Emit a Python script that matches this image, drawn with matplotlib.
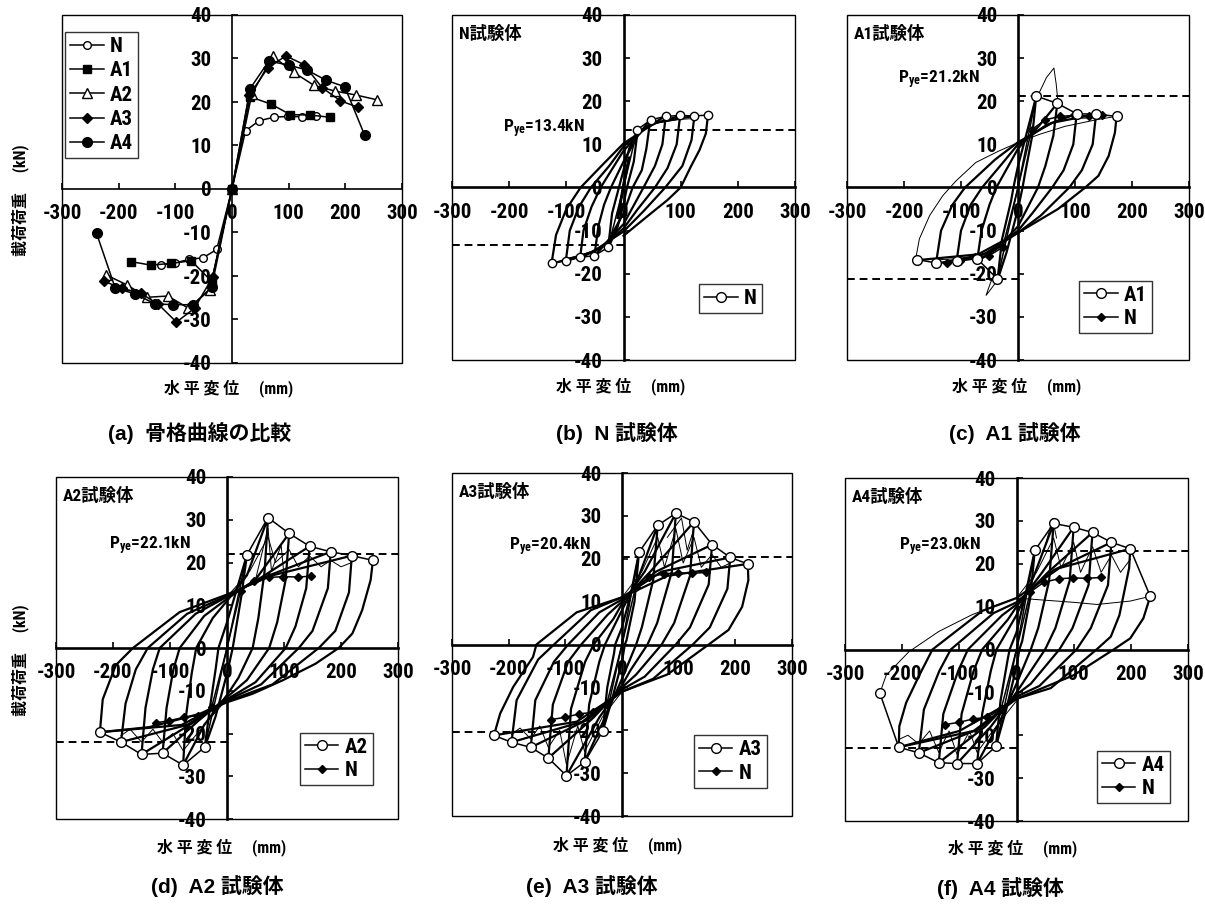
import matplotlib
matplotlib.use('Agg')
import matplotlib.pyplot as plt
from matplotlib import font_manager
from matplotlib.patches import Rectangle
from matplotlib.lines import Line2D

# fonts: look for a narrow bold face for the numbers
names = {f.name for f in font_manager.fontManager.ttflist}
NUM_FONT, NUM_STRETCH = 'Liberation Sans', 'normal'
for cand in ['Liberation Sans Narrow', 'Arial Narrow', 'Roboto Condensed', 'Open Sans Condensed',
             'Noto Sans Condensed', 'DejaVu Sans Condensed']:
    if cand in names:
        NUM_FONT = cand
        break
else:
    for f in font_manager.fontManager.ttflist:
        if f.name in ('Noto Sans', 'Open Sans', 'DejaVu Sans', 'Roboto') and \
                str(f.stretch) in ('condensed', 'semi-condensed', 'extra-condensed'):
            NUM_FONT, NUM_STRETCH = f.name, f.stretch
            break
JP_FONT = 'Noto Sans CJK JP'
plt.rcParams['font.family'] = [NUM_FONT, JP_FONT]
plt.rcParams['font.stretch'] = NUM_STRETCH
plt.rcParams['font.weight'] = 'bold'
plt.rcParams['axes.unicode_minus'] = False
plt.rcParams['mathtext.fontset'] = 'custom'
plt.rcParams['mathtext.rm'] = NUM_FONT + ':bold'
plt.rcParams['mathtext.it'] = NUM_FONT + ':bold'
plt.rcParams['mathtext.bf'] = NUM_FONT + ':bold'
NARROW = NUM_STRETCH != 'normal' or NUM_FONT != 'Liberation Sans'
TICK_FS = 15 if NARROW else 12

W, H = 1205, 905

# ---- skeleton curves (horizontal displacement mm, load kN) ----
N_skel_x = [-125, -101, -76, -51, -27, 0, 24, 48, 74, 99, 124, 148]
N_skel_y = [-17.5, -17.0, -16.2, -15.8, -13.9, 0, 13.4, 15.7, 16.5, 16.7, 16.6, 16.8]

A1_skel_x = [-178, -143, -107, -72, -36, 0, 32, 69, 103, 137, 173]
A1_skel_y = [-16.7, -17.5, -17.1, -16.5, -21.2, 0, 21.2, 19.5, 17.1, 17.0, 16.5]

A2_skel_x = [-223, -186, -150, -113, -77, -39, 0, 35, 72, 109, 145, 182, 219, 256]
A2_skel_y = [-19.7, -22.0, -24.9, -24.6, -27.4, -23.2, 0, 21.8, 30.5, 26.8, 23.8, 22.5, 21.6, 20.5]

A3_skel_x = [-226, -195, -161, -130, -98, -66, -34, 0, 30, 63, 95, 127, 159, 191, 222]
A3_skel_y = [-21.2, -22.8, -24.0, -26.5, -30.6, -27.4, -20.2, 0, 21.5, 27.8, 30.6, 28.6, 23.3, 20.3, 18.8]

A4_skel_x = [-239, -206, -171, -136, -104, -69, -36, 0, 32, 65, 100, 133, 166, 199, 234]
A4_skel_y = [-10.2, -22.8, -24.1, -26.4, -26.6, -26.6, -22.6, 0, 23.1, 29.4, 28.5, 27.3, 25.0, 23.5, 12.4]

# yield loads
P_ye = {'N': 13.4, 'A1': 21.2, 'A2': 22.1, 'A3': 20.4, 'A4': 23.0}

# ---- hysteresis loops ----
N_loops = [
    [(-10, -7), (0, 0), (10, 7), (0, 1), (-10, -7)],
    [(25, 13.5), (18, 6), (6, 0), (0, -4), (-10, -9), (-27, -14.1), (-20, -6), (-8, 0), (0, 4), (10, 9), (25, 13.5)],
    [(47, 15.8), (40, 9), (32, 4), (16, 0), (0, -6), (-25, -12), (-51, -16), (-44, -9), (-34, -4), (-22, 0), (0, 6), (25, 12), (47, 15.8)],
    [(74, 16.6), (68, 10), (55, 5), (35, 0), (0, -8.5), (-35, -13.5), (-76, -16.4), (-70, -10), (-56, -4.5), (-40, 0), (0, 8.5), (35, 13.5), (74, 16.6)],
    [(99, 16.6), (93, 10), (77, 4.5), (55, 0), (25, -5), (0, -9.5), (-45, -14.5), (-101, -17.1), (-94, -10), (-78, -4.5), (-57, 0), (-25, 5), (0, 9.5), (45, 14.5), (99, 16.6)],
    [(124, 16.6), (119, 11), (103, 5), (73, 0), (35, -5.5), (0, -10.2), (-55, -15), (-126, -17.7), (-118, -11), (-100, -5), (-75, 0), (-35, 5.5), (0, 10.2), (55, 15), (124, 16.6)],
    [(148, 17), (144, 12.5), (133, 8.7), (118, 4.9), (100, 0), (77, -2.9), (48, -6), (0, -11.2)],
]
N_thin = [
    [(0, 10), (30, 13), (60, 15), (99, 15.8), (124, 16)],
    [(0, -10), (-40, -14), (-76, -15.8), (-101, -16.5)],
]

A1_loops = [
    [(32, 21.2), (25, 12), (12, 3), (8, 0), (0, -5), (-20, -15), (-36, -21.5), (-28, -12), (-12, -3), (-8, 0), (0, 5), (20, 15), (32, 21.2)],
    [(69, 19.5), (62, 12), (48, 5), (35, 0), (0, -9), (-35, -14), (-72, -17.2), (-64, -10), (-50, -4), (-38, 0), (0, 9), (35, 14), (69, 19.5)],
    [(103, 17.1), (97, 10), (80, 4), (60, 0), (25, -6), (0, -10), (-50, -15), (-108, -17.3), (-100, -10), (-83, -4), (-63, 0), (-25, 6), (0, 10), (50, 14.5), (103, 17.1)],
    [(137, 17), (131, 10), (112, 4), (90, 0), (40, -6.5), (0, -10.5), (-60, -15.5), (-144, -17.7), (-135, -10), (-115, -4), (-93, 0), (-40, 6.5), (0, 10.5), (60, 15), (137, 17)],
    [(173, 16.5), (170, 12.7), (159, 7.3), (141, 2.7), (118, 0), (70, -5), (0, -10.5), (-70, -15.5), (-180, -16.9)],
]
A1_thin = [
    [(-180, -16.9), (-173, -11.9), (-155, -6.5), (-132, -1.9), (-109, 1.5), (-74, 5.8), (-33, 8.5), (0, 10.4), (37, 12.3), (83, 14.2), (141, 15.8), (173, 16.5)],
    [(30, 20), (50, 25.5), (63, 27.7), (67, 24), (70, 20)],
    [(-36, -21.5), (-50, -24), (-56, -25), (-48, -22), (-40, -20)],
    [(0, 10), (40, 13.5), (69, 15.5), (103, 16), (137, 16.2)],
    [(0, -10), (-40, -14.5), (-72, -16), (-108, -16.5), (-144, -16.8)],
]

A2_loops = [
    [(35, 21.8), (25, 12), (15, 4), (10, 0), (0, -6), (-20, -16), (-39, -23.2), (-30, -14), (-20, -5), (-15, 0), (0, 6), (20, 15), (35, 21.8)],
    [(72, 30.5), (66, 18), (55, 7), (45, 0), (20, -7), (0, -11), (-40, -18), (-77, -27.4), (-72, -16), (-62, -6), (-54, 0), (-25, 7), (0, 11), (35, 17), (72, 30.5)],
    [(109, 26.8), (103, 16), (88, 6), (74, 0), (35, -7.5), (0, -11.5), (-50, -17), (-113, -24.6), (-106, -14), (-94, -5), (-83, 0), (-40, 7.5), (0, 11.5), (50, 16), (109, 26.8)],
    [(145, 23.8), (139, 14), (120, 5), (103, 0), (50, -8), (0, -12), (-60, -17.5), (-150, -24.9), (-143, -14), (-130, -5), (-118, 0), (-55, 8), (0, 12), (60, 16.5), (145, 23.8)],
    [(182, 22.5), (177, 14), (150, 4), (126, 0), (60, -8.5), (0, -12.2), (-70, -18), (-186, -22), (-178, -13), (-160, -5), (-139, 0), (-70, 8), (0, 12.2), (70, 16.8), (182, 22.5)],
    [(219, 21.6), (214, 13), (190, 4), (161, 0), (80, -8.5), (0, -12.5), (-80, -18), (-223, -19.7), (-218, -12), (-195, -4), (-165, 0), (-83, 8.4), (0, 12.5), (80, 17), (219, 21.6)],
    [(256, 20.5), (252, 15.9), (237, 8.8), (220, 3.4), (196, 0), (155, -3.7), (97, -7.6), (45, -10.7), (0, -12.7), (-48, -15.4), (-136, -18.5), (-223, -19.7)],
]
A2_thin = [
    [(0, 12), (40, 18), (72, 26), (85, 20), (109, 23), (125, 19), (145, 21.5), (165, 19), (182, 20.5), (200, 19), (219, 20)],
    [(0, -12), (-40, -18), (-77, -24), (-95, -20), (-113, -22), (-130, -19), (-150, -22), (-170, -19), (-186, -20.5)],
    [(50, 16), (72, 28), (78, 18), (95, 24), (100, 17)],
]

A3_loops = [
    [(30, 21.5), (22, 10), (8, 1), (5, 0), (0, -4), (-18, -13), (-34, -20.2), (-26, -10), (-14, -2), (-12, 0), (0, 4), (16, 12), (30, 21.5)],
    [(63, 27.8), (55, 15), (35, 4), (25, 0), (0, -8), (-30, -17), (-66, -27.4), (-58, -14), (-40, -4), (-30, 0), (0, 8), (30, 16), (63, 27.8)],
    [(95, 30.6), (88, 17), (62, 5), (45, 0), (15, -6), (0, -9.5), (-40, -17), (-98, -30.6), (-90, -15), (-65, -4), (-50, 0), (-15, 6), (0, 9.5), (40, 17), (95, 30.6)],
    [(127, 28.6), (120, 16), (92, 5), (70, 0), (25, -7), (0, -10), (-50, -17), (-130, -26.5), (-122, -14), (-95, -4), (-72, 0), (-25, 7), (0, 10), (50, 17), (127, 28.6)],
    [(159, 23.3), (153, 14), (120, 4), (95, 0), (40, -7.5), (0, -10.5), (-60, -17.5), (-161, -24.0), (-153, -13), (-120, -4), (-95, 0), (-40, 7.5), (0, 10.5), (60, 17), (159, 23.3)],
    [(191, 20.3), (186, 13), (155, 4), (125, 0), (55, -8), (0, -11), (-70, -18), (-195, -22.8), (-186, -13), (-148, -3.5), (-120, 0), (-55, 8), (0, 11), (70, 17), (191, 20.3)],
    [(222, 18.8), (223, 15), (212, 8.8), (188, 3.4), (153, 0), (80, -7), (0, -11), (-80, -18), (-226, -21.2), (-215, -16.1), (-192, -9.9), (-157, -2.9), (-151, 0), (-80, 7.5), (0, 11), (80, 16), (222, 18.8)],
]
A3_thin = [
    [(0, 11), (35, 17), (63, 25), (75, 18), (95, 27), (108, 19), (127, 25), (140, 18), (159, 21), (175, 18), (191, 19)],
    [(0, -11), (-35, -17), (-66, -25), (-78, -19), (-98, -28), (-110, -20), (-130, -24), (-145, -19), (-161, -22), (-180, -19.5), (-195, -21)],
    [(80, 25), (105, 29.5), (115, 22), (127, 27)],
]

A4_loops = [
    [(32, 23.1), (24, 12), (10, 2), (5, 0), (0, -4), (-18, -14), (-36, -22.6), (-28, -12), (-15, -2), (-12, 0), (0, 4), (16, 13), (32, 23.1)],
    [(65, 29.4), (57, 16), (38, 5), (25, 0), (0, -8), (-30, -17), (-69, -26.6), (-60, -15), (-45, -5), (-35, 0), (0, 8), (30, 17), (65, 29.4)],
    [(100, 28.5), (93, 16), (68, 5), (50, 0), (15, -7), (0, -10), (-45, -18), (-104, -26.6), (-96, -15), (-75, -5), (-60, 0), (-15, 7), (0, 10), (45, 18), (100, 28.5)],
    [(133, 27.3), (126, 15), (98, 5), (75, 0), (25, -8), (0, -10.5), (-55, -18), (-136, -26.4), (-128, -15), (-102, -5), (-85, 0), (-25, 8), (0, 10.5), (55, 18), (133, 27.3)],
    [(166, 25), (160, 15), (130, 5), (105, 0), (40, -8.5), (0, -11), (-65, -18.5), (-171, -24.1), (-162, -14), (-135, -5), (-115, 0), (-40, 8.5), (0, 11), (65, 18.5), (166, 25)],
    [(199, 23.5), (197, 19), (180, 8), (165, 3), (140, 0), (60, -9), (0, -11.5), (-75, -19), (-206, -22.8), (-205, -17.9), (-193, -12.4), (-170, -6), (-147, 0), (-60, 9), (0, 12), (75, 19), (199, 23.5)],
    [(234, 12.4), (222, 7.3), (199, 2.6), (170, 0), (100, -6), (0, -11.5), (-100, -19), (-206, -22.8)],
]
A4_thin = [
    [(-239, -10.2), (-228, -6), (-188, -0.5), (-136, 4.2), (-78, 8.1), (-32, 10.5), (0, 12), (100, 11), (141, 10.5), (199, 11.3), (234, 12.4)],
    [(50, 24), (63, 30.5), (70, 26)],
    [(0, 12), (35, 18), (65, 26), (78, 19), (100, 25), (112, 18), (133, 24), (148, 18), (166, 22), (182, 18), (199, 21)],
    [(0, -12), (-36, -18), (-69, -24), (-82, -19), (-104, -24.5), (-118, -19), (-136, -24), (-152, -19), (-171, -22), (-190, -20), (-206, -21)],
]


def plot_path(ax, pts, lw=1.4, color='black'):
    ax.plot([p[0] for p in pts], [p[1] for p in pts], color=color, lw=lw,
            solid_joinstyle='round', zorder=2)


def no_origin(xs):
    # marker indices, leaving out the origin point
    return [i for i, v in enumerate(xs) if v != 0]


def setup(ax, zero_lw):
    ax.set_xlim(-300, 300)
    ax.set_ylim(-40, 40)
    ax.spines['left'].set_position('zero')
    ax.spines['bottom'].set_position('zero')
    ax.spines['left'].set_linewidth(zero_lw)
    ax.spines['bottom'].set_linewidth(zero_lw)
    ax.spines['right'].set_visible(False)
    ax.spines['top'].set_visible(False)
    ax.add_patch(Rectangle((0, 0), 1, 1, transform=ax.transAxes, fill=False,
                           lw=1.0, ec='black', clip_on=False, zorder=5))
    ax.set_xticks(range(-300, 301, 100))
    ax.set_yticks(range(-40, 41, 10))
    ax.tick_params(direction='in', length=4, width=1.2, labelsize=TICK_FS)
    ax.tick_params(axis='y', pad=15)
    ax.tick_params(axis='x', pad=11)
    for lab in ax.get_xticklabels() + ax.get_yticklabels():
        lab.set_fontweight('bold')
    ax.patch.set_alpha(0)


def axes_px(left, top, right, bottom):
    return fig.add_axes([left / W, 1 - bottom / H, (right - left) / W, (bottom - top) / H])


fig = plt.figure(figsize=(W / 100, H / 100), dpi=100)

# ---------------- (a) skeleton comparison ----------------
ax = axes_px(62, 15, 402, 363)
setup(ax, 1.2)
ax.plot(N_skel_x, N_skel_y, '-o', color='black', lw=1.1, ms=5.5, mfc='white', mec='black', mew=1.0, zorder=3)
ax.plot(A1_skel_x, A1_skel_y, '-s', color='black', lw=1.1, ms=6, zorder=3)
ax.plot(A2_skel_x, A2_skel_y, '-^', color='black', lw=1.1, ms=7, mfc='white', mec='black', mew=1.0, zorder=3)
ax.plot(A3_skel_x, A3_skel_y, '-D', color='black', lw=1.1, ms=5.5, zorder=3)
ax.plot(A4_skel_x, A4_skel_y, '-o', color='black', lw=1.1, ms=7, zorder=3)
handles = [
    Line2D([], [], color='black', lw=1.1, marker='o', ms=5.5, mfc='white', mec='black'),
    Line2D([], [], color='black', lw=1.1, marker='s', ms=6),
    Line2D([], [], color='black', lw=1.1, marker='^', ms=7, mfc='white', mec='black'),
    Line2D([], [], color='black', lw=1.1, marker='D', ms=5.5),
    Line2D([], [], color='black', lw=1.1, marker='o', ms=7),
]
leg = ax.legend(handles, ['N', 'A1', 'A2', 'A3', 'A4'], loc='upper left',
                bbox_to_anchor=(0.009, 0.951), borderaxespad=0, frameon=True, fancybox=False,
                edgecolor='black', fontsize=TICK_FS, handlelength=1.6,
                borderpad=0.25, labelspacing=0.25, handletextpad=0.3)
leg.get_frame().set_linewidth(1.0)

# ---------------- hysteresis panels ----------------
panels = [
    # name, box(left, top, right, bottom), loops, thin, skeleton, legend anchor, Pye label pos
    ('N', (452, 15, 795, 360), N_loops, N_thin, (N_skel_x, N_skel_y), (0.904, 0.136), (-140, 13.7)),
    ('A1', (847, 15, 1189, 360), A1_loops, A1_thin, (A1_skel_x, A1_skel_y), (0.892, 0.078), (-139, 25)),
    ('A2', (56, 477, 398, 819), A2_loops, A2_thin, (A2_skel_x, A2_skel_y), (0.927, 0.099), (-136, 24)),
    ('A3', (452, 473, 792, 816), A3_loops, A3_thin, (A3_skel_x, A3_skel_y), (0.926, 0.082), (-127, 22.9)),
    ('A4', (845, 478, 1188, 821), A4_loops, A4_thin, (A4_skel_x, A4_skel_y), (0.947, 0.052), (-134, 24)),
]

for name, box, loops, thin, skel, anchor, ppos in panels:
    ax = axes_px(*box)
    setup(ax, 1.9)
    for loop in loops:
        plot_path(ax, loop, lw=1.6)
    for t in thin:
        plot_path(ax, t, lw=0.7)
    py = P_ye[name]
    ax.plot([0, 300], [py, py], color='black', lw=1.4, ls=(0, (4, 2.5)), zorder=2)
    ax.plot([-300, 0], [-py, -py], color='black', lw=1.4, ls=(0, (4, 2.5)), zorder=2)
    ax.text(ppos[0], ppos[1], r'P$_{ye}$=%.1fkN' % py, ha='center', va='center',
            fontsize=12.5, fontweight='bold')
    ax.text(-288, 35.8, name + '試験体', ha='left', va='center', fontsize=12.5,
            fontweight='bold')
    h_spec = Line2D([], [], color='black', lw=1.1, marker='o', ms=7, mfc='white', mec='black')
    h_n = Line2D([], [], color='black', lw=1.1, marker='D', ms=4.5)
    if name == 'N':
        ax.plot(skel[0], skel[1], '-o', color='black', lw=1.1, ms=6, mfc='white', mec='black',
                markevery=no_origin(skel[0]), zorder=3)
        hs, ls = [h_spec], ['N']
    else:
        ax.plot(N_skel_x, N_skel_y, '-D', color='black', lw=1.1, ms=4.5,
                markevery=no_origin(N_skel_x), zorder=3)
        ax.plot(skel[0], skel[1], '-o', color='black', lw=1.1, ms=7, mfc='white', mec='black',
                markevery=no_origin(skel[0]), zorder=4)
        hs, ls = [h_spec, h_n], [name, 'N']
    lg = ax.legend(hs, ls, loc='lower right', bbox_to_anchor=anchor, borderaxespad=0,
                   frameon=True, fancybox=False, edgecolor='black', fontsize=TICK_FS,
                   handlelength=1.6, borderpad=0.25, labelspacing=0.2, handletextpad=0.3)
    lg.get_frame().set_linewidth(1.0)

# ---------------- axis labels and captions ----------------
for xc, yc in [(229, 388), (621, 386), (1017, 386), (222, 847), (618, 845), (1013, 848)]:
    fig.text(xc / W, 1 - yc / H, '水 平 変 位　 (mm)', ha='center', va='center',
             fontsize=11.5, fontweight='bold')
for yc in [200, 660]:
    fig.text(20 / W, 1 - yc / H, '載荷荷重　 (kN)', ha='center', va='center',
             rotation=90, fontsize=11.5, fontweight='bold')

captions = [
    ('(a)  骨格曲線の比較', 200, 433),
    ('(b)  N 試験体', 617, 433),
    ('(c)  A1 試験体', 1015, 433),
    ('(d)  A2 試験体', 217, 886),
    ('(e)  A3 試験体', 592, 886),
    ('(f)  A4 試験体', 1000, 888),
]
for txt, xc, yc in captions:
    fig.text(xc / W, 1 - yc / H, txt, ha='center', va='center', fontsize=15,
             fontweight='bold', family=['Liberation Sans', JP_FONT])

fig.savefig('out.png', dpi=100)
